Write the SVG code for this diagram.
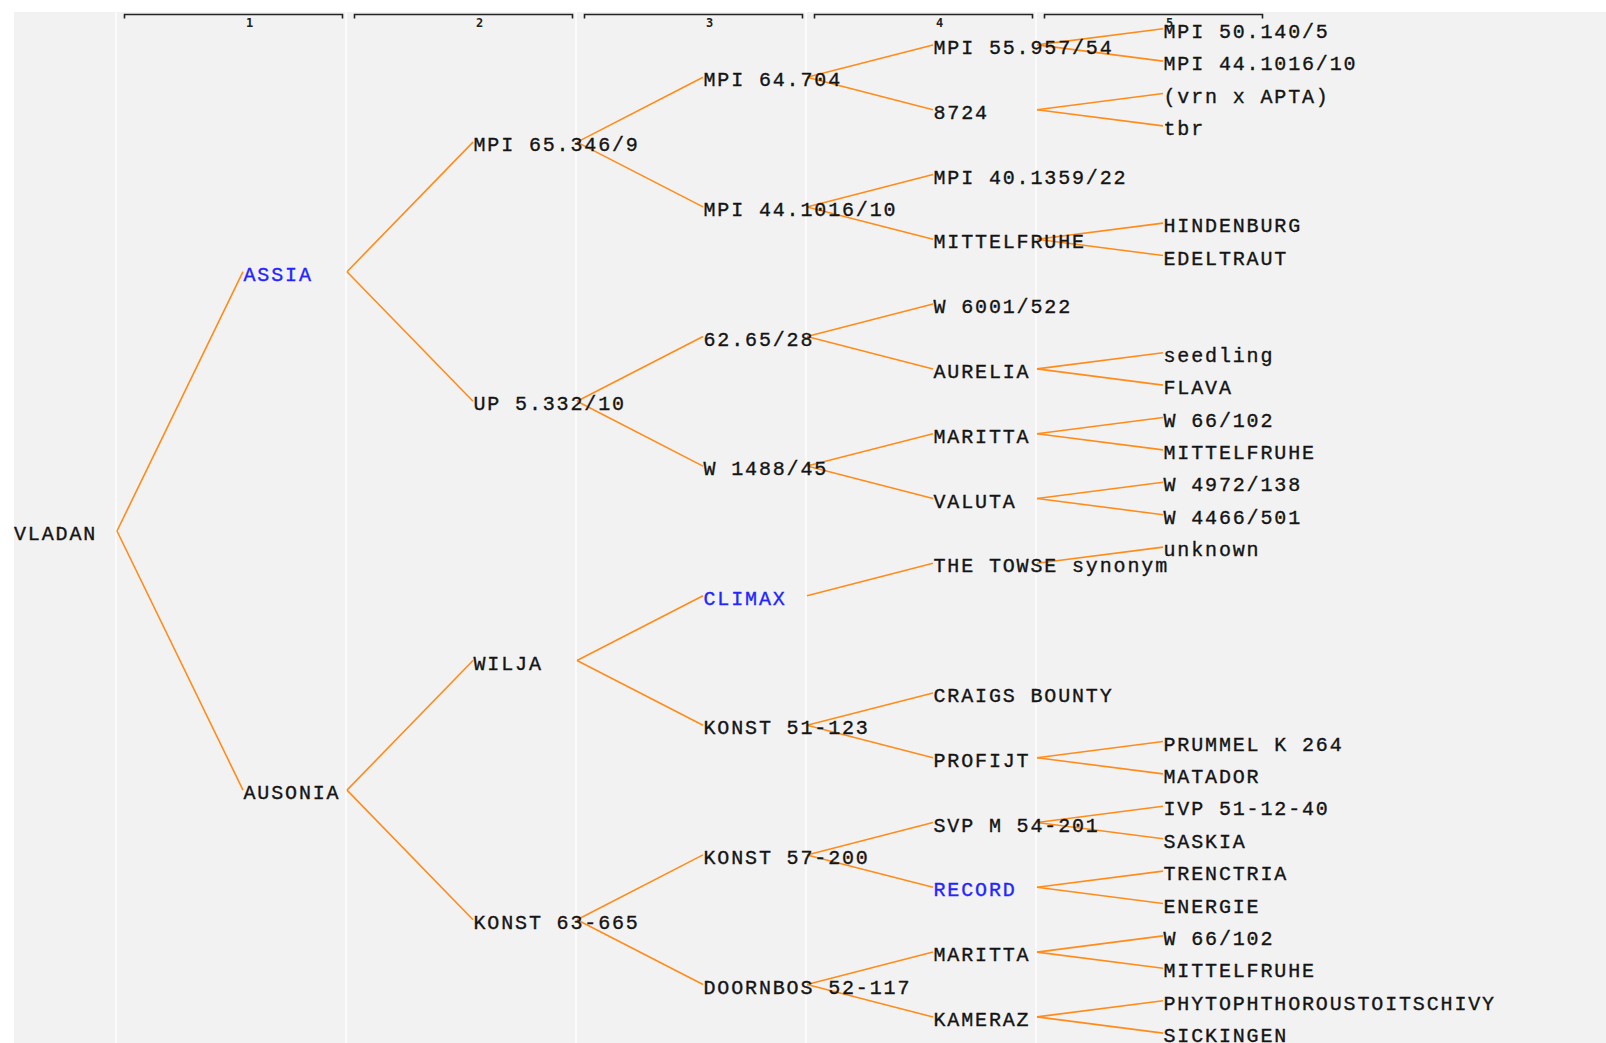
<svg xmlns="http://www.w3.org/2000/svg" width="1606" height="1043" viewBox="0 0 1606 1043">
  <style>
    .bg { fill: #f2f2f2; }
    .div { stroke: #fbfbfb; stroke-width: 2; }
    .brk { fill: none; stroke: #222; stroke-width: 1.6; }
    .gen { font-family: "DejaVu Sans Mono", "Liberation Mono", monospace; font-size: 12px; font-weight: bold; fill: #222; text-anchor: middle; }
    .n text { font-family: "Liberation Mono", "DejaVu Sans Mono", monospace; font-size: 20px; letter-spacing: 1.85px; fill: #141414; stroke: #141414; stroke-width: 0.35px; }
    .n.hl text { fill: #2424ff; stroke: #2424ff; }
    #edges line { stroke: #ff8c1a; stroke-width: 1.6; }
  </style>

  <!-- panel and column rules -->
  <rect class="bg" x="14" y="12" width="1592" height="1031"/>
  <g id="columns">
    <line class="div" x1="116" y1="12" x2="116" y2="1043"/>
    <line class="div" x1="346" y1="12" x2="346" y2="1043"/>
    <line class="div" x1="576" y1="12" x2="576" y2="1043"/>
    <line class="div" x1="806" y1="12" x2="806" y2="1043"/>
    <line class="div" x1="1036" y1="12" x2="1036" y2="1043"/>
  </g>

  <!-- generation brackets -->
  <g id="generations">
    <path class="brk" d="M124.5,18.5 V14.5 H342.5 V18.5"/>
    <path class="brk" d="M354.5,18.5 V14.5 H572.5 V18.5"/>
    <path class="brk" d="M584.5,18.5 V14.5 H802.5 V18.5"/>
    <path class="brk" d="M814.5,18.5 V14.5 H1032.5 V18.5"/>
    <path class="brk" d="M1044.5,18.5 V14.5 H1262.5 V18.5"/>
    <text class="gen" x="249.5" y="26.5">1</text>
    <text class="gen" x="479.5" y="26.5">2</text>
    <text class="gen" x="709.5" y="26.5">3</text>
    <text class="gen" x="939.5" y="26.5">4</text>
    <text class="gen" x="1169.5" y="26.5">5</text>
  </g>

  <!-- connectors -->
  <g id="edges">
    <line x1="117" y1="531" x2="243" y2="271.7"/>
    <line x1="117" y1="531" x2="243" y2="790.1"/>

    <line x1="347" y1="271.7" x2="473" y2="142.1"/>
    <line x1="347" y1="271.7" x2="473" y2="401.3"/>
    <line x1="347" y1="790.1" x2="473" y2="660.5"/>
    <line x1="347" y1="790.1" x2="473" y2="919.7"/>

    <line x1="577" y1="142.1" x2="703" y2="77.3"/>
    <line x1="577" y1="142.1" x2="703" y2="206.9"/>
    <line x1="577" y1="401.3" x2="703" y2="336.5"/>
    <line x1="577" y1="401.3" x2="703" y2="466.1"/>
    <line x1="577" y1="660.5" x2="703" y2="595.7"/>
    <line x1="577" y1="660.5" x2="703" y2="725.3"/>
    <line x1="577" y1="919.7" x2="703" y2="854.9"/>
    <line x1="577" y1="919.7" x2="703" y2="984.5"/>

    <line x1="807" y1="77.3" x2="933" y2="44.9"/>
    <line x1="807" y1="77.3" x2="933" y2="109.7"/>
    <line x1="807" y1="206.9" x2="933" y2="174.5"/>
    <line x1="807" y1="206.9" x2="933" y2="239.3"/>
    <line x1="807" y1="336.5" x2="933" y2="304.1"/>
    <line x1="807" y1="336.5" x2="933" y2="368.9"/>
    <line x1="807" y1="466.1" x2="933" y2="433.7"/>
    <line x1="807" y1="466.1" x2="933" y2="498.5"/>
    <line x1="807" y1="595.7" x2="933" y2="563.3"/>
    <line x1="807" y1="725.3" x2="933" y2="692.9"/>
    <line x1="807" y1="725.3" x2="933" y2="757.7"/>
    <line x1="807" y1="854.9" x2="933" y2="822.5"/>
    <line x1="807" y1="854.9" x2="933" y2="887.3"/>
    <line x1="807" y1="984.5" x2="933" y2="952.1"/>
    <line x1="807" y1="984.5" x2="933" y2="1016.9"/>

    <line x1="1037" y1="44.9" x2="1163" y2="28.7"/>
    <line x1="1037" y1="44.9" x2="1163" y2="61.1"/>
    <line x1="1037" y1="109.7" x2="1163" y2="93.5"/>
    <line x1="1037" y1="109.7" x2="1163" y2="125.9"/>
    <line x1="1037" y1="239.3" x2="1163" y2="223.1"/>
    <line x1="1037" y1="239.3" x2="1163" y2="255.5"/>
    <line x1="1037" y1="368.9" x2="1163" y2="352.7"/>
    <line x1="1037" y1="368.9" x2="1163" y2="385.1"/>
    <line x1="1037" y1="433.7" x2="1163" y2="417.5"/>
    <line x1="1037" y1="433.7" x2="1163" y2="449.9"/>
    <line x1="1037" y1="498.5" x2="1163" y2="482.3"/>
    <line x1="1037" y1="498.5" x2="1163" y2="514.7"/>
    <line x1="1037" y1="563.3" x2="1163" y2="547.1"/>
    <line x1="1037" y1="757.7" x2="1163" y2="741.5"/>
    <line x1="1037" y1="757.7" x2="1163" y2="773.9"/>
    <line x1="1037" y1="822.5" x2="1163" y2="806.3"/>
    <line x1="1037" y1="822.5" x2="1163" y2="838.7"/>
    <line x1="1037" y1="887.3" x2="1163" y2="871.1"/>
    <line x1="1037" y1="887.3" x2="1163" y2="903.5"/>
    <line x1="1037" y1="952.1" x2="1163" y2="935.9"/>
    <line x1="1037" y1="952.1" x2="1163" y2="968.3"/>
    <line x1="1037" y1="1016.9" x2="1163" y2="1000.7"/>
    <line x1="1037" y1="1016.9" x2="1163" y2="1033.1"/>
  </g>

  <!-- generation 0 -->
  <g id="n-vladan" class="n"><text x="14" y="540">VLADAN</text></g>

  <!-- generation 1 -->
  <g id="n-assia" class="n hl"><text x="243.5" y="280.7">ASSIA</text></g>
  <g id="n-ausonia" class="n"><text x="243.5" y="799.1">AUSONIA</text></g>

  <!-- generation 2 -->
  <g id="n-mpi-65-346-9" class="n"><text x="473.5" y="151.1">MPI 65.346/9</text></g>
  <g id="n-up-5-332-10" class="n"><text x="473.5" y="410.3">UP 5.332/10</text></g>
  <g id="n-wilja" class="n"><text x="473.5" y="669.5">WILJA</text></g>
  <g id="n-konst-63-665" class="n"><text x="473.5" y="928.7">KONST 63-665</text></g>

  <!-- generation 3 -->
  <g id="n-mpi-64-704" class="n"><text x="703.5" y="86.3">MPI 64.704</text></g>
  <g id="n-mpi-44-1016-10-a" class="n"><text x="703.5" y="215.9">MPI 44.1016/10</text></g>
  <g id="n-62-65-28" class="n"><text x="703.5" y="345.5">62.65/28</text></g>
  <g id="n-w-1488-45" class="n"><text x="703.5" y="475.1">W 1488/45</text></g>
  <g id="n-climax" class="n hl"><text x="703.5" y="604.7">CLIMAX</text></g>
  <g id="n-konst-51-123" class="n"><text x="703.5" y="734.3">KONST 51-123</text></g>
  <g id="n-konst-57-200" class="n"><text x="703.5" y="863.9">KONST 57-200</text></g>
  <g id="n-doornbos-52-117" class="n"><text x="703.5" y="993.5">DOORNBOS 52-117</text></g>

  <!-- generation 4 -->
  <g id="n-mpi-55-957-54" class="n"><text x="933.5" y="53.9">MPI 55.957/54</text></g>
  <g id="n-8724" class="n"><text x="933.5" y="118.7">8724</text></g>
  <g id="n-mpi-40-1359-22" class="n"><text x="933.5" y="183.5">MPI 40.1359/22</text></g>
  <g id="n-mittelfruhe-a" class="n"><text x="933.5" y="248.3">MITTELFRUHE</text></g>
  <g id="n-w-6001-522" class="n"><text x="933.5" y="313.1">W 6001/522</text></g>
  <g id="n-aurelia" class="n"><text x="933.5" y="377.9">AURELIA</text></g>
  <g id="n-maritta-a" class="n"><text x="933.5" y="442.7">MARITTA</text></g>
  <g id="n-valuta" class="n"><text x="933.5" y="507.5">VALUTA</text></g>
  <g id="n-the-towse" class="n"><text x="933.5" y="572.3">THE TOWSE synonym</text></g>
  <g id="n-craigs-bounty" class="n"><text x="933.5" y="701.9">CRAIGS BOUNTY</text></g>
  <g id="n-profijt" class="n"><text x="933.5" y="766.7">PROFIJT</text></g>
  <g id="n-svp-m-54-201" class="n"><text x="933.5" y="831.5">SVP M 54-201</text></g>
  <g id="n-record" class="n hl"><text x="933.5" y="896.3">RECORD</text></g>
  <g id="n-maritta-b" class="n"><text x="933.5" y="961.1">MARITTA</text></g>
  <g id="n-kameraz" class="n"><text x="933.5" y="1025.9">KAMERAZ</text></g>

  <!-- generation 5 -->
  <g id="n-mpi-50-140-5" class="n"><text x="1163.5" y="37.7">MPI 50.140/5</text></g>
  <g id="n-mpi-44-1016-10-b" class="n"><text x="1163.5" y="70.1">MPI 44.1016/10</text></g>
  <g id="n-vrn-apta" class="n"><text x="1163.5" y="102.5">(vrn x APTA)</text></g>
  <g id="n-tbr" class="n"><text x="1163.5" y="134.9">tbr</text></g>
  <g id="n-hindenburg" class="n"><text x="1163.5" y="232.1">HINDENBURG</text></g>
  <g id="n-edeltraut" class="n"><text x="1163.5" y="264.5">EDELTRAUT</text></g>
  <g id="n-seedling" class="n"><text x="1163.5" y="361.7">seedling</text></g>
  <g id="n-flava" class="n"><text x="1163.5" y="394.1">FLAVA</text></g>
  <g id="n-w-66-102-a" class="n"><text x="1163.5" y="426.5">W 66/102</text></g>
  <g id="n-mittelfruhe-b" class="n"><text x="1163.5" y="458.9">MITTELFRUHE</text></g>
  <g id="n-w-4972-138" class="n"><text x="1163.5" y="491.3">W 4972/138</text></g>
  <g id="n-w-4466-501" class="n"><text x="1163.5" y="523.7">W 4466/501</text></g>
  <g id="n-unknown" class="n"><text x="1163.5" y="556.1">unknown</text></g>
  <g id="n-prummel-k-264" class="n"><text x="1163.5" y="750.5">PRUMMEL K 264</text></g>
  <g id="n-matador" class="n"><text x="1163.5" y="782.9">MATADOR</text></g>
  <g id="n-ivp-51-12-40" class="n"><text x="1163.5" y="815.3">IVP 51-12-40</text></g>
  <g id="n-saskia" class="n"><text x="1163.5" y="847.7">SASKIA</text></g>
  <g id="n-trenctria" class="n"><text x="1163.5" y="880.1">TRENCTRIA</text></g>
  <g id="n-energie" class="n"><text x="1163.5" y="912.5">ENERGIE</text></g>
  <g id="n-w-66-102-b" class="n"><text x="1163.5" y="944.9">W 66/102</text></g>
  <g id="n-mittelfruhe-c" class="n"><text x="1163.5" y="977.3">MITTELFRUHE</text></g>
  <g id="n-phytophthorous" class="n"><text x="1163.5" y="1009.7">PHYTOPHTHOROUSTOITSCHIVY</text></g>
  <g id="n-sickingen" class="n"><text x="1163.5" y="1042.1">SICKINGEN</text></g>
</svg>
